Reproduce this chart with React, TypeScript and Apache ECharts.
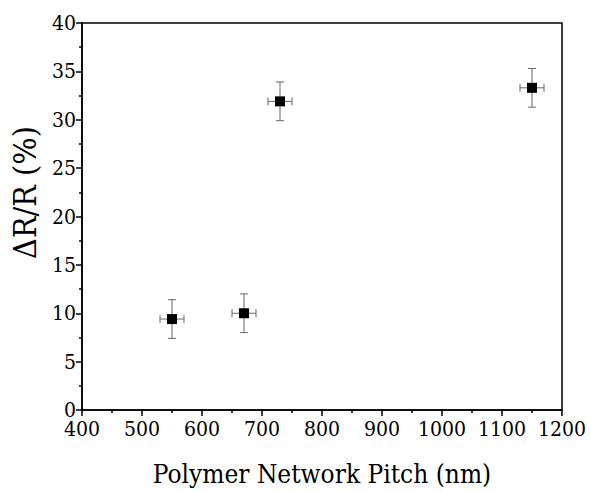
import React, { useEffect, useRef } from "react";
import * as echarts from "echarts";

const pitch = [550, 670, 730, 1150];
const deltaR = [9.4, 10.0, 31.9, 33.3];
const xErr = [20, 20, 20, 20];
const yErr = [2.0, 2.0, 2.0, 2.0];

export default function App() {
  const ref = useRef<HTMLDivElement>(null);
  useEffect(() => {
    if (!ref.current) return;
    const chart = echarts.init(ref.current, null, { renderer: "svg" });
    const font = "DejaVu Serif Condensed";
    const errData = pitch.map((x, i) => [x, deltaR[i], xErr[i], yErr[i]]);
    chart.setOption({
      animation: false,
      backgroundColor: "#fff",
      textStyle: { fontFamily: font },
      grid: { left: 82, top: 23, width: 480, height: 387, show: true, borderColor: "#000", borderWidth: 1.5, backgroundColor: "transparent" },
      xAxis: {
        type: "value",
        min: 400,
        max: 1200,
        interval: 100,
        name: "Polymer Network Pitch (nm)",
        nameLocation: "middle",
        nameGap: 51,
        nameTextStyle: { fontFamily: font, fontSize: 26, color: "#000" },
        axisLine: { show: true, lineStyle: { color: "#000", width: 1.5 } },
        axisTick: { show: true, inside: false, length: 6, lineStyle: { color: "#000", width: 1.5 } },
        minorTick: { show: true, splitNumber: 2, length: 3, lineStyle: { color: "#000", width: 1.5 } },
        splitLine: { show: false },
        axisLabel: { fontFamily: font, fontSize: 21, color: "#000", margin: 8, formatter: (v: number) => String(v) },
      },
      yAxis: {
        type: "value",
        min: 0,
        max: 40,
        interval: 5,
        name: "ΔR/R (%)",
        nameLocation: "middle",
        nameRotate: 90,
        nameGap: 40,
        nameTextStyle: { fontFamily: font, fontSize: 32, color: "#000", padding: [0, 0, 0, 48] },
        axisLine: { show: true, lineStyle: { color: "#000", width: 1.5 } },
        axisTick: { show: true, inside: false, length: 6, lineStyle: { color: "#000", width: 1.5 } },
        minorTick: { show: true, splitNumber: 2, length: 3, lineStyle: { color: "#000", width: 1.5 } },
        splitLine: { show: false },
        axisLabel: { fontFamily: font, fontSize: 21, color: "#000", margin: 6, formatter: (v: number) => String(v) },
      },
      series: [
        {
          type: "custom",
          data: errData,
          z: 1,
          renderItem: (params: any, api: any) => {
            const x = api.value(0);
            const y = api.value(1);
            const ex = api.value(2);
            const ey = api.value(3);
            const c = api.coord([x, y]);
            const l = api.coord([x - ex, y]);
            const r = api.coord([x + ex, y]);
            const t = api.coord([x, y + ey]);
            const b = api.coord([x, y - ey]);
            const cap = 4;
            const style = { stroke: "#666", lineWidth: 1 };
            return {
              type: "group",
              children: [
                { type: "line", shape: { x1: l[0], y1: c[1], x2: r[0], y2: c[1] }, style },
                { type: "line", shape: { x1: c[0], y1: t[1], x2: c[0], y2: b[1] }, style },
                { type: "line", shape: { x1: l[0], y1: c[1] - cap, x2: l[0], y2: c[1] + cap }, style },
                { type: "line", shape: { x1: r[0], y1: c[1] - cap, x2: r[0], y2: c[1] + cap }, style },
                { type: "line", shape: { x1: c[0] - cap, y1: t[1], x2: c[0] + cap, y2: t[1] }, style },
                { type: "line", shape: { x1: c[0] - cap, y1: b[1], x2: c[0] + cap, y2: b[1] }, style },
              ],
            };
          },
        },
        {
          type: "scatter",
          data: pitch.map((x, i) => [x, deltaR[i]]),
          symbol: "rect",
          symbolSize: 10,
          itemStyle: { color: "#000", opacity: 1 },
          z: 2,
        },
      ],
    });
    return () => chart.dispose();
  }, []);
  return <div ref={ref} style={{ width: 590, height: 492, position: "absolute", left: 0, top: 0 }} />;
}
